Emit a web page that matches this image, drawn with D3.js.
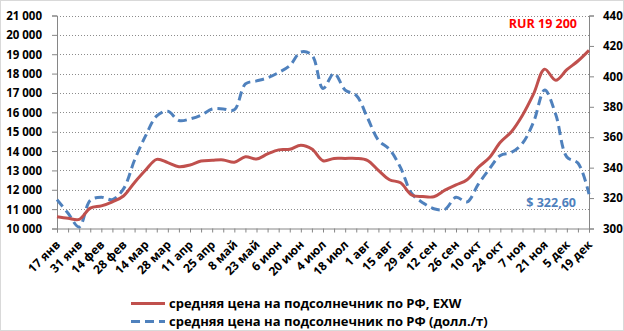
<!DOCTYPE html>
<html><head><meta charset="utf-8">
<script src="https://cdn.jsdelivr.net/npm/d3@7/dist/d3.min.js"></script>
<style>
html,body{margin:0;padding:0;background:#fff;}
svg text{font-family:"Open Sans","Noto Sans",sans-serif;font-weight:bold;}
</style></head>
<body><svg id="c" width="624" height="331"></svg>
<script>
const categories = ["17 янв","24 янв","31 янв","7 фев","14 фев","21 фев","28 фев","7 мар","14 мар","21 мар","28 мар","4 апр","11 апр","18 апр","25 апр","2 май","8 май","16 май","23 май","30 май","6 июн","13 июн","20 июн","27 июн","4 июл","11 июл","18 июл","25 июл","1 авг","8 авг","15 авг","22 авг","29 авг","5 сен","12 сен","19 сен","26 сен","3 окт","10 окт","17 окт","24 окт","31 окт","7 ноя","14 ноя","21 ноя","28 ноя","5 дек","12 дек","19 дек"];
const rubPrice = [10610,10530,10470,11050,11170,11380,11680,12380,13020,13570,13400,13190,13280,13490,13520,13540,13420,13700,13590,13850,14060,14090,14300,14100,13500,13620,13620,13620,13520,13000,12520,12360,11730,11650,11640,11980,12250,12520,13150,13650,14450,15000,15850,16950,18230,17650,18200,18650,19200];
const usdPrice = [319,310,301,318.5,320.5,319,326,345,361,374,377,371,372,374.5,378.5,378.6,378,395,397,399,402.5,407,416,414,392,402,391,387.5,373,358,352,340,323,317,313,312.6,320.5,317.5,329,339,348,350,356,370,391,375,347,343,322.6];
const leftTicks = [10000,11000,12000,13000,14000,15000,16000,17000,18000,19000,20000,21000];
const rightTicks = [300,320,340,360,380,400,420,440];
const seriesNames = ["средняя цена на подсолнечник по РФ, EXW","средняя цена на подсолнечник по РФ (долл./т)"];
const rubLabel = "RUR 19 200";
const usdLabel = "$ 322,60";

const svg = d3.select("#c");
const L = 57, R = 589, T = 15.5, B = 228.5;
const red = "#C0504D", blue = "#4F81BD", axisCol = "#868686";

svg.append("rect").attr("x",0.5).attr("y",0.5).attr("width",623).attr("height",330)
  .attr("fill","#fff").attr("stroke","#d9d9d9");

const x = d3.scalePoint().domain(d3.range(categories.length)).range([L,R]);
const yL = d3.scaleLinear().domain([10000,21000]).range([B,T]);
const yR = d3.scaleLinear().domain([300,440]).range([B,T]);

// gridlines
svg.append("g").selectAll("line").data(leftTicks.slice(1)).join("line")
  .attr("x1",L).attr("x2",R).attr("y1",d=>Math.round(yL(d))+0.5).attr("y2",d=>Math.round(yL(d))+0.5)
  .attr("stroke","#8c8c8c").attr("stroke-dasharray","1,2").attr("stroke-width",1);

const fmt = d => d3.format(",")(d).replace(/,/g," ");

// left axis
const gl = svg.append("g").attr("transform",`translate(${L},0)`)
  .call(d3.axisLeft(yL).tickValues(leftTicks).tickFormat(fmt).tickSize(5).tickPadding(10));
// right axis
const gr = svg.append("g").attr("transform",`translate(${R},0)`)
  .call(d3.axisRight(yR).tickValues(rightTicks).tickSize(5).tickPadding(9));
// bottom axis
const gb = svg.append("g").attr("transform",`translate(0,${B})`)
  .call(d3.axisBottom(x).tickSize(4).tickFormat(""));
[gl,gr,gb].forEach(g=>{
  g.select(".domain").attr("stroke",axisCol);
  g.selectAll(".tick line").attr("stroke",axisCol);
  g.selectAll("text").attr("fill","#000").attr("font-size","11.5px");
});
gl.selectAll(".tick text").attr("dy","0.35em");

// x labels, every second category
svg.append("g").selectAll("text").data(d3.range(0,categories.length,2)).join("text")
  .attr("transform",d=>`translate(${x(d)+4},${B+17}) rotate(-45)`)
  .attr("text-anchor","end").attr("font-size","12px").attr("fill","#000")
  .text(d=>categories[d]);

// lines
const lineL = d3.line().x((d,i)=>x(i)).y(d=>yL(d)).curve(d3.curveCatmullRom.alpha(0.5));
const lineR = d3.line().x((d,i)=>x(i)).y(d=>yR(d)).curve(d3.curveCatmullRom.alpha(0.5));
svg.append("path").datum(usdPrice).attr("d",lineR).attr("fill","none").attr("stroke",blue)
  .attr("stroke-width",3).attr("stroke-dasharray","9,5");
svg.append("path").datum(rubPrice).attr("d",lineL).attr("fill","none").attr("stroke",red)
  .attr("stroke-width",3);

// annotations
svg.append("text").attr("x",577).attr("y",28).attr("text-anchor","end")
  .attr("fill","#FF0000").attr("font-size","12.5px").text(rubLabel);
svg.append("text").attr("x",576).attr("y",207).attr("text-anchor","end")
  .attr("fill",blue).attr("font-size","12.5px").text(usdLabel);

// legend
const leg = svg.append("g");
[[red,null,303.5],[blue,"9,5",321.5]].forEach((s,i)=>{
  leg.append("line").attr("x1",131).attr("x2",165).attr("y1",s[2]).attr("y2",s[2])
    .attr("stroke",s[0]).attr("stroke-width",3).attr("stroke-dasharray",s[1]);
  leg.append("text").attr("x",169).attr("y",s[2]+4.5).attr("font-size","13px").attr("fill","#000")
    .text(seriesNames[i]);
});
</script></body></html>
